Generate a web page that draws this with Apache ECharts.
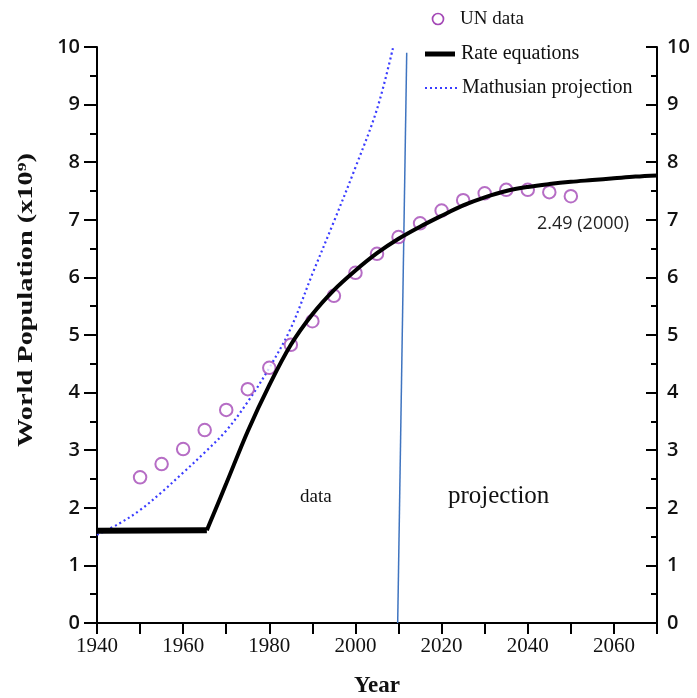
<!DOCTYPE html>
<html><head><meta charset="utf-8">
<script src="https://cdn.jsdelivr.net/npm/echarts@6/dist/echarts.min.js"></script>
<style>html,body{margin:0;padding:0;background:#fff}#c{width:697px;height:698px}</style>
</head><body><div id="c"></div>
<script>
// ---- data ----
const unYears = [1950,1955,1960,1965,1970,1975,1980,1985,1990,1995,2000,2005,2010,2015,2020,2025,2030,2035,2040,2045,2050];
const unValues = [2.53,2.76,3.02,3.35,3.70,4.06,4.43,4.83,5.24,5.68,6.08,6.41,6.70,6.94,7.16,7.34,7.46,7.52,7.52,7.48,7.41];

const rateFlatYears = [1940,1965.5];
const rateFlatValues = [1.60,1.61];

const rateYears = [1965.5,1967,1970,1975,1980,1985,1990,1995,2000,2005,2010,2015,2020,2025,2030,2035,2040,2045,2050,2055,2060,2065,2070];
const rateValues = [1.61,1.88,2.42,3.33,4.13,4.83,5.36,5.78,6.12,6.42,6.67,6.88,7.07,7.25,7.39,7.50,7.57,7.62,7.66,7.69,7.72,7.75,7.77];

const malYears = [1940,1945,1950,1955,1960,1965,1970,1975,1980,1985,1990,1995,2000,2005,2008.7];
const malValues = [1.53,1.72,1.96,2.27,2.61,2.96,3.34,3.84,4.43,5.12,6.06,6.97,7.91,8.92,9.98];

const dividerYears = [2009.8,2011.9];
const dividerValues = [0,9.9];

const xTickLabels = ['1940','1960','1980','2000','2020','2040','2060'];
const seriesNames = ['UN data','Rate equations','Mathusian projection'];

const zip = (a,b)=>a.map((v,i)=>[v,b[i]]);

const chart = echarts.init(document.getElementById('c'), null, {renderer:'canvas'});
const serif = '"Liberation Serif", "DejaVu Serif", serif';
const sans = '"Open Sans", "DejaVu Sans", sans-serif';
const axisBlack = {lineStyle:{color:'#000', width:2}};
const purple = '#a448b6';
const malBlue = '#3a3cff';

chart.setOption({
  animation:false,
  backgroundColor:'#fff',
  grid:{left:97, right:40, top:47, bottom:75, containLabel:false, outerBoundsMode:'none'},
  xAxis:{
    type:'value', min:1940, max:2070, interval:10,
    axisLine:{onZero:false, ...axisBlack},
    axisTick:{inside:false, length:11, lineStyle:{color:'#000', width:2}},
    splitLine:{show:false},
    axisLabel:{margin:13, fontFamily:serif, fontSize:21, color:'#111',
      formatter:v=> xTickLabels.includes(String(v)) ? String(v) : ''},
    name:'Year', nameLocation:'middle', nameGap:52,
    nameTextStyle:{fontFamily:serif, fontSize:23, fontWeight:'bold', color:'#111'}
  },
  yAxis:[
    {type:'value', min:0, max:10, interval:1, position:'left',
     axisLine:{show:true, ...axisBlack},
     axisTick:{inside:false, length:13, lineStyle:{color:'#000', width:2}},
     minorTick:{show:true, splitNumber:2, length:7, lineStyle:{color:'#000', width:2}},
     splitLine:{show:false},
     axisLabel:{margin:17, fontFamily:sans, fontWeight:600, fontSize:20, color:'#111'}
    },
    {type:'value', min:0, max:10, interval:1, position:'right',
     axisLine:{show:true, ...axisBlack},
     axisTick:{inside:true, length:11, lineStyle:{color:'#000', width:2}},
     minorTick:{show:true, splitNumber:2, length:6, lineStyle:{color:'#000', width:2}},
     splitLine:{show:false},
     axisLabel:{margin:10, fontFamily:sans, fontWeight:600, fontSize:20, color:'#111'}
    }
  ],
  series:[
    {name:seriesNames[0], type:'scatter', data:zip(unYears,unValues), symbol:'emptyCircle', symbolSize:12.5,
     itemStyle:{color:purple, borderColor:purple, borderWidth:1.7}, z:3},
    {name:seriesNames[1], type:'line', data:zip(rateFlatYears,rateFlatValues), symbol:'none',
     lineStyle:{color:'#000', width:6}, itemStyle:{color:'#000'}, z:4},
    {name:seriesNames[1], type:'line', data:zip(rateYears,rateValues), symbol:'none', smooth:0.35,
     lineStyle:{color:'#000', width:4}, itemStyle:{color:'#000'}, z:4},
    {name:seriesNames[2], type:'line', data:zip(malYears,malValues), symbol:'none', smooth:0.35,
     lineStyle:{color:malBlue, width:2.2, type:[2,3]}, itemStyle:{color:malBlue}, z:2},
    {name:'divider', type:'line', data:zip(dividerYears,dividerValues), symbol:'none',
     lineStyle:{color:'#3f74c0', width:1.5}, z:1, silent:true}
  ],
  graphic:[
    // legend
    {type:'circle', shape:{cx:438, cy:19, r:5.5}, style:{fill:'#fff', stroke:purple, lineWidth:1.7}},
    {type:'text', left:460, top:10, style:{text:seriesNames[0], font:'19px '+serif, fill:'#111'}},
    {type:'line', shape:{x1:425, y1:54, x2:455, y2:54}, style:{stroke:'#000', lineWidth:5}},
    {type:'text', left:461, top:44, style:{text:seriesNames[1], font:'20px '+serif, fill:'#111'}},
    {type:'line', shape:{x1:425, y1:88, x2:460, y2:88}, style:{stroke:malBlue, lineWidth:2, lineDash:[2,3]}},
    {type:'text', left:462, top:78, style:{text:seriesNames[2], font:'20px '+serif, fill:'#111'}},
    // y axis title
    {type:'text', x:27, y:300, rotation:Math.PI/2, scaleX:1.35, scaleY:1,
     style:{text:'{a|World Population (x10}{s|9}{a|)}', align:'center', verticalAlign:'middle',
       rich:{
         a:{font:'bold 21px '+serif, fill:'#111'},
         s:{font:'bold 13px '+serif, fill:'#111', verticalAlign:'top', padding:[0,0,9,0]}
       }}},
    // annotations
    {type:'text', left:300, top:488, style:{text:'data', font:'19px '+serif, fill:'#111'}},
    {type:'text', left:448, top:484, style:{text:'projection', font:'25px '+serif, fill:'#111'}},
    {type:'text', left:537, top:215, style:{text:'2.49 (2000)', font:'500 18px '+sans, fill:'#222'}}
  ]
});
</script></body></html>
